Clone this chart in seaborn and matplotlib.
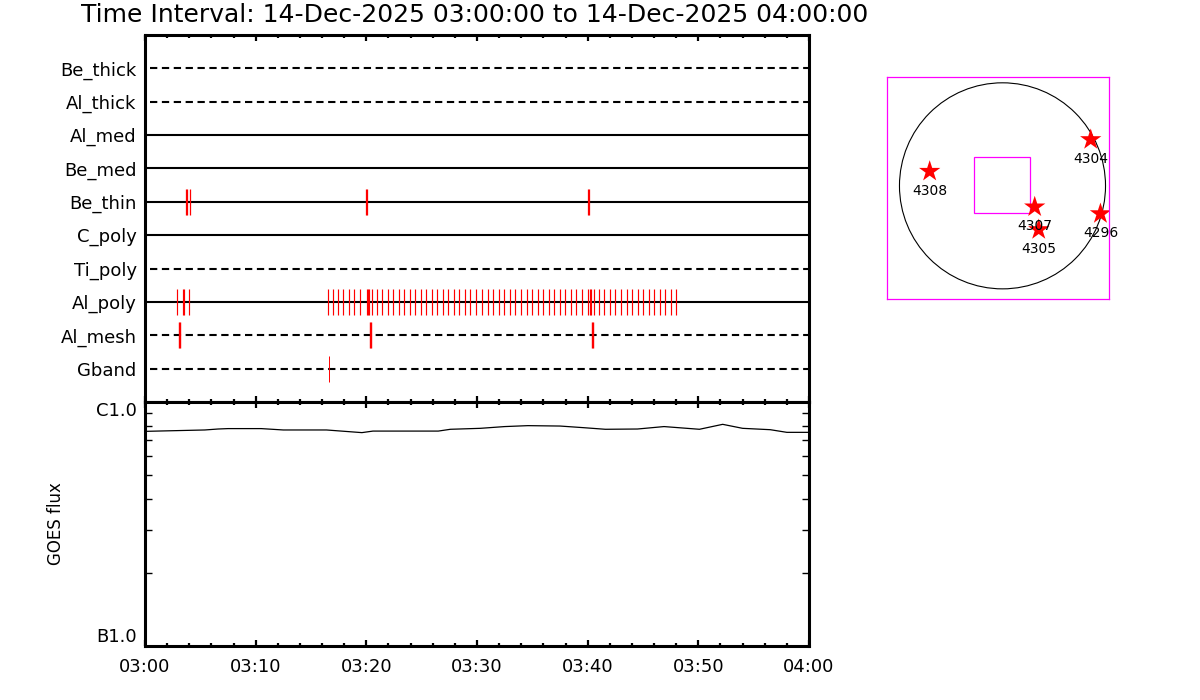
import matplotlib
matplotlib.use("Agg")
import matplotlib.pyplot as plt
import matplotlib.patches as mpatches
from matplotlib.ticker import MultipleLocator, NullFormatter, FixedLocator
import seaborn as sns
import pandas as pd

# filter rows, top to bottom, and their line style
rows = ["Be_thick", "Al_thick", "Al_med", "Be_med", "Be_thin",
        "C_poly", "Ti_poly", "Al_poly", "Al_mesh", "Gband"]
row_dashed = [True, True, False, False, False, False, True, False, True, True]

# event times, minutes after 03:00
be_thin_t = [3.70, 3.79, 4.07, 20.00, 20.09, 40.05, 40.14]
al_poly_t = [2.91, 3.45, 3.55, 4.00,
             16.56, 17.01, 17.47, 17.92, 18.46, 18.91, 19.45, 20.03, 20.15, 20.22,
             20.54, 20.99, 21.44, 21.98, 22.44, 22.98, 23.43, 23.97, 24.42, 24.97,
             25.42, 25.96, 26.41, 26.95, 27.41, 27.95, 28.40, 28.94, 29.39, 29.94,
             30.48, 31.02, 31.47, 32.01, 32.47, 33.01, 33.46, 34.00, 34.54, 35.00,
             35.54, 35.99, 36.53, 36.98, 37.53, 37.98, 38.52, 38.97, 39.51, 40.07,
             40.20, 40.28, 40.60, 41.05, 41.50, 42.05, 42.50, 43.04, 43.58, 44.03,
             44.57, 45.03, 45.57, 46.02, 46.56, 47.01, 47.56, 48.01]
al_mesh_t = [3.05, 3.14, 20.34, 20.42, 40.40, 40.48]
gband_t = [16.65]

# GOES flux (W/m^2)
goes_t = [0, 5.4, 6.6, 7.5, 10.5, 12.5, 16.4, 19.6, 20.6, 26.5, 27.6, 30.3, 32.5,
          34.6, 37.5, 39.6, 41.6, 44.5, 46.9, 50.1, 52.2, 54.0, 56.5, 58.0, 60]
goes_flux = [7.58e-7, 7.68e-7, 7.75e-7, 7.78e-7, 7.78e-7, 7.68e-7, 7.68e-7, 7.49e-7,
             7.60e-7, 7.60e-7, 7.73e-7, 7.80e-7, 7.93e-7, 8.00e-7, 7.97e-7, 7.85e-7,
             7.73e-7, 7.75e-7, 7.93e-7, 7.73e-7, 8.10e-7, 7.80e-7, 7.70e-7, 7.51e-7,
             7.51e-7]

tick_minutes = [0, 10, 20, 30, 40, 50, 60]
tick_labels = ["03:00", "03:10", "03:20", "03:30", "03:40", "03:50", "04:00"]

# active regions on the disk (arcsec)
ar_nums = ["4304", "4308", "4307", "4305", "4296"]
ar_x = [835, -689, 305, 343, 927]
ar_y = [437, 137, -200, -415, -264]
sun_r = 975
fov_x = [-270, 260]
fov_y = [-257, 273]

sns.set_style("white")
plt.rcParams["font.family"] = ["DejaVu Sans"]
plt.rcParams["text.color"] = "black"
plt.rcParams["axes.labelcolor"] = "black"
plt.rcParams["xtick.color"] = "black"
plt.rcParams["ytick.color"] = "black"

fig = plt.figure(figsize=(12, 7), dpi=100)
W, H = 1200, 700

def box(l, t, r, b):
    return [l / W, 1 - b / H, (r - l) / W, (b - t) / H]

ax_t = fig.add_axes(box(145, 35, 809, 402))
ax_b = fig.add_axes(box(145, 402, 809, 646))
ax_s = fig.add_axes(box(887, 77, 1109, 299))

# ---- filter rows
n = len(rows)
ypos = [n - i for i in range(n)]
for y, dashed in zip(ypos, row_dashed):
    if dashed:
        ax_t.axhline(y, color="black", lw=1.5, dashes=(3.5, 2.2), xmin=0.008)
    else:
        ax_t.axhline(y, color="black", lw=1.5)

events = {"Be_thin": (be_thin_t, 0.9), "Al_poly": (al_poly_t, 0.85),
          "Al_mesh": (al_mesh_t, 1.0), "Gband": (gband_t, 0.7)}
for name, (times, lw) in events.items():
    y = ypos[rows.index(name)]
    ax_t.vlines(times, y - 0.39, y + 0.39, color="red", lw=lw)

ax_t.set_xlim(0, 60)
ax_t.set_ylim(0, n + 1)
ax_t.set_yticks(ypos)
ax_t.set_yticklabels(rows, fontsize=13)
ax_t.tick_params(axis="y", length=0, pad=6)
ax_t.set_xticks(tick_minutes)
ax_t.xaxis.set_minor_locator(MultipleLocator(2))
ax_t.tick_params(axis="x", which="both", direction="in", top=True, bottom=True,
                 labelbottom=False, width=1.6, color="black")
ax_t.tick_params(axis="x", which="major", length=4.5)
ax_t.tick_params(axis="x", which="minor", length=2.3)

# ---- GOES panel
goes = pd.DataFrame({"t": goes_t, "flux": goes_flux})
sns.lineplot(data=goes, x="t", y="flux", ax=ax_b, color="black", lw=0.9)
ax_b.set_yscale("log")
ax_b.set_ylim(1e-7, 1e-6)
ax_b.set_xlim(0, 60)
ax_b.yaxis.set_major_locator(FixedLocator([1e-7, 1e-6]))
ax_b.set_yticklabels(["B1.0", "C1.0"], fontsize=13)
ylabs = ax_b.get_yticklabels()
ylabs[0].set_va("bottom")
ylabs[1].set_va("top")
ax_b.yaxis.set_minor_formatter(NullFormatter())
ax_b.tick_params(axis="y", which="major", length=0, pad=6)
ax_b.tick_params(axis="y", which="minor", direction="in", left=True, right=True,
                 length=4.7, width=1.0)
ax_b.set_xticks(tick_minutes)
ax_b.set_xticklabels(tick_labels, fontsize=13)
ax_b.xaxis.set_minor_locator(MultipleLocator(2))
ax_b.tick_params(axis="x", which="both", direction="in", top=True, bottom=True,
                 width=1.6, pad=9)
ax_b.tick_params(axis="x", which="major", length=4.5)
ax_b.tick_params(axis="x", which="minor", length=2.3)
ax_b.set_xlabel("")
ax_b.set_ylabel("GOES flux", fontsize=12)
ax_b.yaxis.set_label_coords(-0.12, 0.5)

for ax in (ax_t, ax_b):
    for sp in ax.spines.values():
        sp.set_visible(True)
        sp.set_color("black")
        sp.set_linewidth(2.2)

# ---- solar disk map
ax_s.add_patch(mpatches.Circle((0, 0), sun_r, fill=False, ec="black", lw=0.8))
ax_s.add_patch(mpatches.Rectangle((fov_x[0], fov_y[0]), fov_x[1] - fov_x[0],
                                  fov_y[1] - fov_y[0], fill=False, ec="magenta", lw=0.9))
sns.scatterplot(x=ar_x, y=ar_y, ax=ax_s, marker="*", s=260, color="red",
                edgecolor="none", legend=False)
for num, x, y in zip(ar_nums, ar_x, ar_y):
    ax_s.annotate(num, (x, y), xytext=(0, -14), textcoords="offset points",
                  ha="center", va="center", fontsize=10)
ax_s.set_xlim(-1093, 1008)
ax_s.set_ylim(-1071, 1030)
ax_s.set_xticks([])
ax_s.set_yticks([])
for sp in ax_s.spines.values():
    sp.set_visible(True)
    sp.set_color("magenta")
    sp.set_linewidth(0.9)

fig.text(475 / W, 1 - 15 / H,
         "Time Interval: 14-Dec-2025 03:00:00 to 14-Dec-2025 04:00:00",
         ha="center", va="center", fontsize=18)

fig.savefig("out.png", dpi=100, facecolor="white")
